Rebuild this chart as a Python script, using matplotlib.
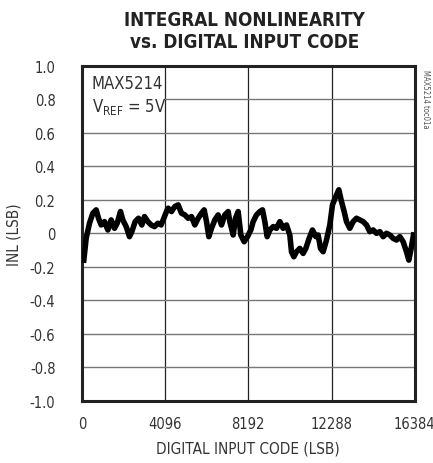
import matplotlib.pyplot as plt
from matplotlib.patches import Rectangle
from matplotlib import font_manager

# INL trace (code, LSB)
codes = [98, 213, 377, 541, 705, 820, 951, 1115, 1279, 1443, 1607, 1738, 1902,
         2017, 2181, 2345, 2460, 2624, 2788, 2952, 3083, 3247, 3411, 3575, 3739,
         3903, 4034, 4198, 4248, 4412, 4576, 4739, 4904, 5068, 5231, 5396, 5560,
         5724, 5888, 6019, 6134, 6249, 6380, 6544, 6708, 6872, 7036, 7200, 7282,
         7446, 7561, 7692, 7823, 7987, 8151, 8315, 8430, 8594, 8758, 8889, 9004,
         9119, 9250, 9414, 9578, 9742, 9906, 10070, 10234, 10316, 10431, 10562,
         10726, 10890, 11021, 11185, 11349, 11513, 11628, 11743, 11874, 12038,
         12202, 12333, 12497, 12645, 12776, 12907, 13022, 13186, 13350, 13514,
         13678, 13842, 14006, 14170, 14334, 14498, 14662, 14826, 14990, 15154,
         15318, 15482, 15646, 15810, 15974, 16089, 16220, 16318]
inl = [-0.16, -0.03, 0.06, 0.12, 0.14, 0.09, 0.05, 0.07, 0.02, 0.08, 0.03, 0.06,
       0.13, 0.08, 0.04, -0.02, 0.01, 0.07, 0.09, 0.05, 0.10, 0.07, 0.05, 0.04,
       0.06, 0.05, 0.09, 0.14, 0.15, 0.13, 0.16, 0.17, 0.12, 0.11, 0.09, 0.10,
       0.05, 0.09, 0.12, 0.14, 0.07, -0.02, 0.03, 0.08, 0.11, 0.05, 0.11, 0.13,
       0.07, -0.01, 0.09, 0.13, -0.01, -0.05, -0.02, 0.02, 0.07, 0.11, 0.13,
       0.14, 0.07, -0.02, 0.02, 0.04, 0.03, 0.07, 0.03, 0.05, -0.01, -0.11,
       -0.14, -0.11, -0.09, -0.12, -0.09, -0.03, 0.02, -0.02, -0.01, -0.09,
       -0.11, -0.04, 0.05, 0.17, 0.22, 0.26, 0.19, 0.13, 0.07, 0.03, 0.07, 0.09,
       0.08, 0.07, 0.05, 0.01, 0.02, 0.00, 0.01, -0.02, 0.00, -0.01, -0.03,
       -0.04, -0.02, -0.05, -0.11, -0.16, -0.08, -0.01]

xticks = [0, 4096, 8192, 12288, 16384]
yticks = [-1.0, -0.8, -0.6, -0.4, -0.2, 0, 0.2, 0.4, 0.6, 0.8, 1.0]
ylabels = ['-1.0', '-0.8', '-0.6', '-0.4', '-0.2', '0', '0.2', '0.4', '0.6', '0.8', '1.0']

# look for a narrow sans face, else squeeze DejaVu by size
narrow = None
for f in font_manager.fontManager.ttflist:
    n = f.name + ' ' + f.fname
    if ('Condensed' in n or 'Narrow' in n) and 'Mono' not in n and 'Serif' not in n:
        narrow = f.name
        stretch = f.stretch
        break
if narrow:
    fam = narrow
    fs_tick, fs_title = 10.5, 13.5
else:
    fam = 'DejaVu Sans'
    stretch = 'normal'
    fs_tick, fs_title = 9.5, 11.5

plt.rcParams['font.family'] = [fam, 'DejaVu Sans']
plt.rcParams['font.stretch'] = stretch
plt.rcParams['mathtext.fontset'] = 'custom'
plt.rcParams['mathtext.rm'] = fam
plt.rcParams['mathtext.default'] = 'regular'

fig = plt.figure(figsize=(4.33, 4.64), dpi=100)
ax = fig.add_axes([0.189, 0.134, 0.769, 0.722])

ax.plot(codes, inl, color='black', lw=4.0, solid_joinstyle='round', zorder=3)

ax.set_xlim(0, 16384)
ax.set_ylim(-1.0, 1.0)
ax.set_xticks(xticks)
ax.set_yticks(yticks)
ax.set_yticklabels(ylabels)
ax.tick_params(direction='in', length=0, labelsize=fs_tick, labelcolor='#333333')
ax.tick_params(axis='x', pad=11)
ax.tick_params(axis='y', pad=19)
ax.xaxis.grid(True, color='#222222', lw=0.9)
ax.yaxis.grid(True, color='#777777', lw=1.0)
ax.set_axisbelow(True)
for s in ax.spines.values():
    s.set_linewidth(2.2)
    s.set_color('#222222')

# white box behind the annotation
ax.add_patch(Rectangle((0, 0.61), 4060, 0.39, facecolor='white', edgecolor='none', zorder=1.5))
ax.text(480, 0.87, 'MAX5214', fontsize=fs_tick + 1.5, color='#333333', zorder=4)
ax.text(480, 0.73, r'V$_{REF}$ = 5V', fontsize=fs_tick + 1.5, color='#333333', zorder=4)

ax.set_xlabel('DIGITAL INPUT CODE (LSB)', fontsize=fs_tick + 0.5, color='#333333', labelpad=7)
ax.set_ylabel('INL (LSB)', fontsize=fs_tick + 0.5, color='#333333', labelpad=6)

fig.text(0.565, 0.955, 'INTEGRAL NONLINEARITY', ha='center', va='center',
         fontsize=fs_title, fontweight='bold', color='#222222')
fig.text(0.565, 0.908, 'vs. DIGITAL INPUT CODE', ha='center', va='center',
         fontsize=fs_title, fontweight='bold', color='#222222')
fig.text(0.982, 0.85, 'MAX5214 toc01a', rotation=270, ha='center', va='top',
         fontsize=5.5, color='#555555')

fig.savefig('out.png', dpi=100)
